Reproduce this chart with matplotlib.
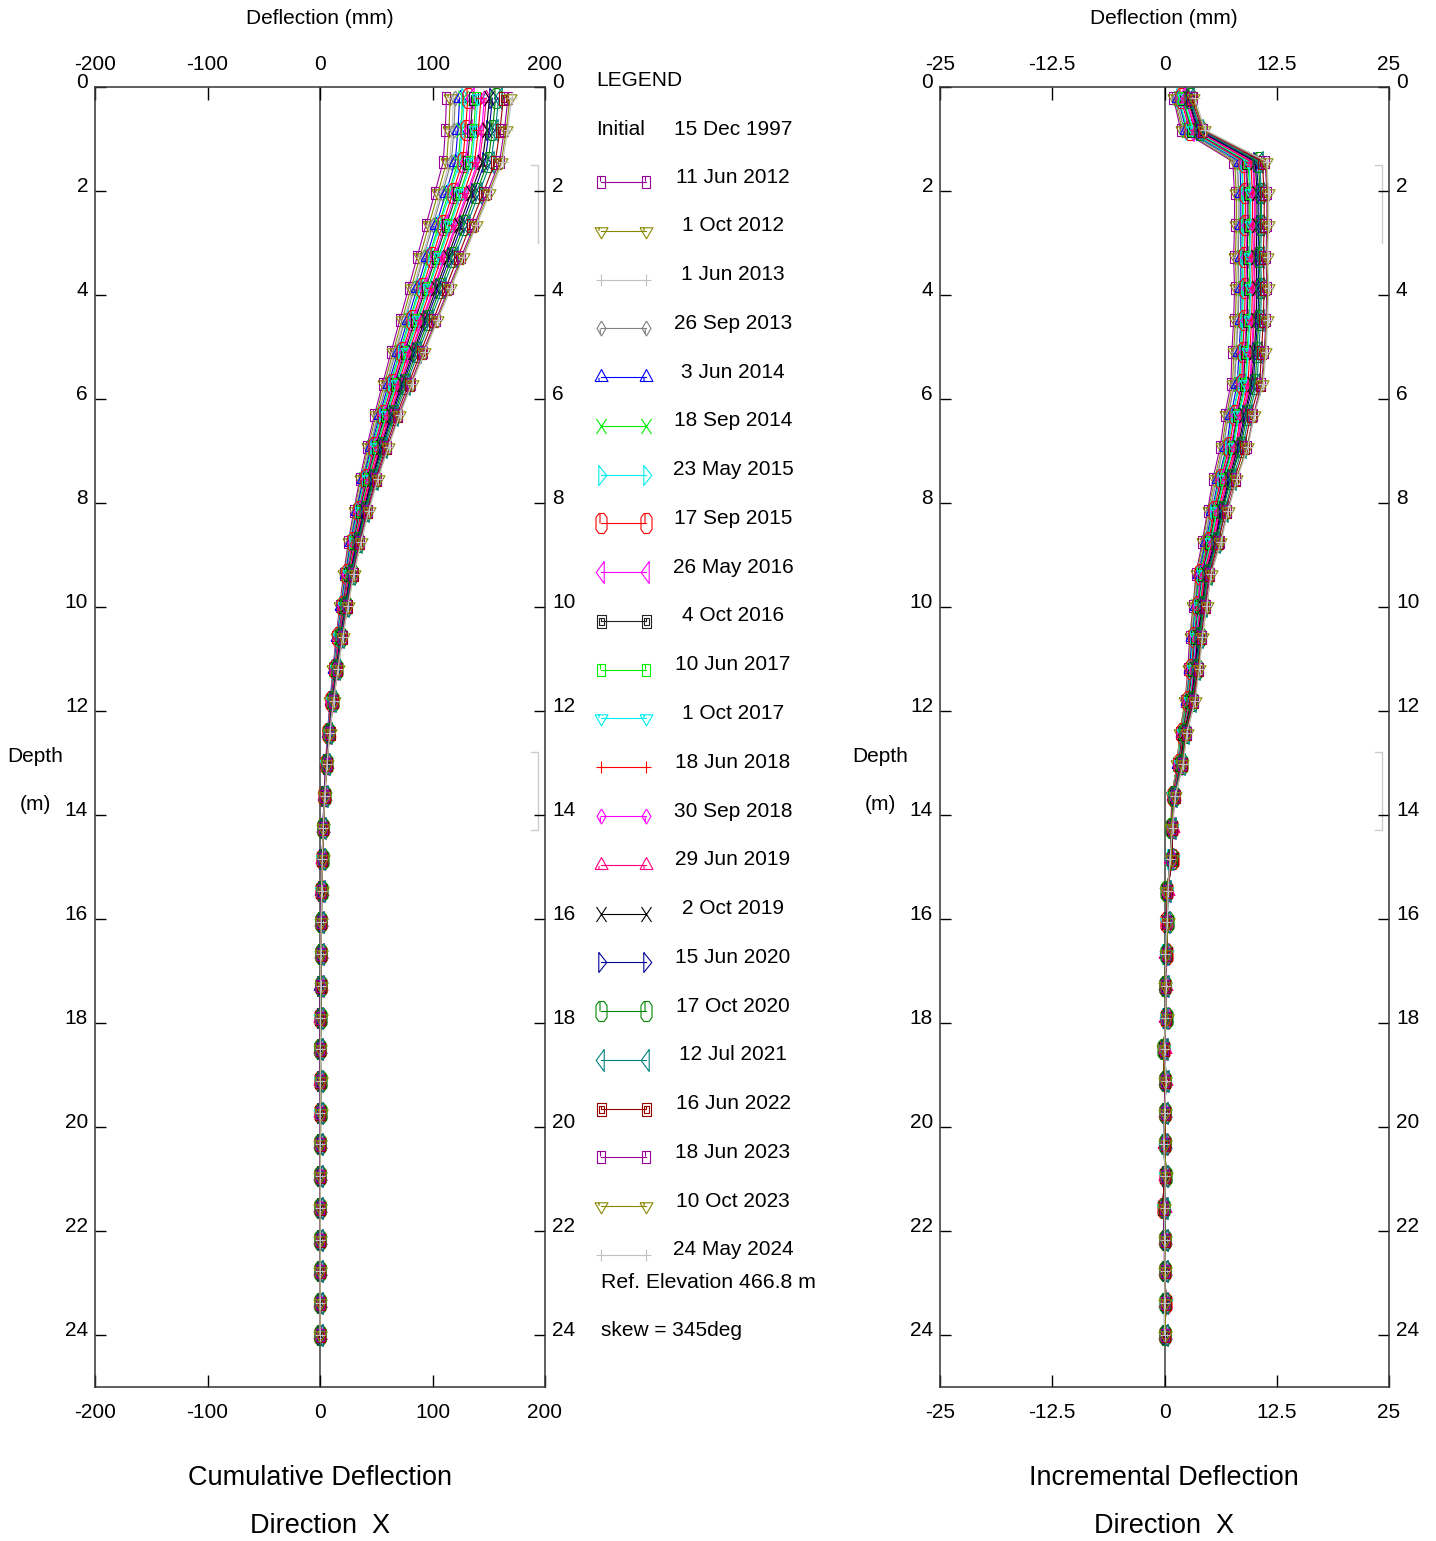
import numpy as np
import matplotlib
matplotlib.use("Agg")
import matplotlib.pyplot as plt
from matplotlib.path import Path
from matplotlib.transforms import ScaledTranslation

plt.rcParams['font.family'] = ['Liberation Sans', 'DejaVu Sans']

# ---- data -------------------------------------------------------------
depths = [0.22, 0.83, 1.44, 2.05, 2.66, 3.27, 3.88, 4.49, 5.10, 5.71,
          6.32, 6.93, 7.54, 8.15, 8.76, 9.37, 9.98, 10.59, 11.20, 11.81,
          12.42, 13.03, 13.64, 14.25, 14.86, 15.46, 16.07, 16.68, 17.29, 17.90,
          18.51, 19.12, 19.73, 20.34, 20.95, 21.56, 22.17, 22.78, 23.39, 24.00]

dates = ['11 Jun 2012', '1 Oct 2012', '1 Jun 2013', '26 Sep 2013', '3 Jun 2014',
         '18 Sep 2014', '23 May 2015', '17 Sep 2015', '26 May 2016', '4 Oct 2016',
         '10 Jun 2017', '1 Oct 2017', '18 Jun 2018', '30 Sep 2018', '29 Jun 2019',
         '2 Oct 2019', '15 Jun 2020', '17 Oct 2020', '12 Jul 2021', '16 Jun 2022',
         '18 Jun 2023', '10 Oct 2023', '24 May 2024']

# incremental deflection (mm) at each depth, one list per survey
inc_11jun2012 = [1.0, 1.8, 7.6, 7.8, 7.8, 7.7, 7.8, 7.7, 7.5, 7.4, 6.7, 6.2, 5.4, 4.8, 4.2, 3.5, 3.2, 2.8, 2.6, 2.3, 1.7, 1.4, 0.8,
                 0.8, 0.7, 0.3, 0.3, 0.2, 0.1, 0.2, -0.1, 0.1, 0.0, 0.0, 0.1, -0.1, 0.0, 0.0, 0.1, 0.0]
inc_01oct2012 = [1.1, 2.0, 7.8, 8.0, 8.0, 7.9, 8.0, 7.9, 7.7, 7.6, 6.9, 6.4, 5.6, 4.9, 4.3, 3.6, 3.2, 2.9, 2.7, 2.3, 1.7, 1.4, 0.8,
                 0.7, 0.8, 0.2, 0.4, 0.2, 0.0, 0.3, -0.2, 0.1, 0.1, 0.0, 0.2, -0.1, 0.1, 0.0, 0.1, 0.1]
inc_01jun2013 = [1.3, 2.1, 8.0, 8.2, 8.2, 8.1, 8.2, 8.1, 7.9, 7.7, 7.1, 6.5, 5.7, 5.0, 4.4, 3.7, 3.3, 3.0, 2.7, 2.4, 1.8, 1.4, 0.9,
                 0.9, 0.6, 0.4, 0.3, 0.1, 0.2, 0.1, 0.0, 0.2, 0.0, -0.1, 0.1, 0.0, 0.0, 0.1, 0.0, 0.0]
inc_26sep2013 = [1.3, 2.2, 8.1, 8.3, 8.3, 8.2, 8.3, 8.2, 8.0, 7.8, 7.1, 6.6, 5.8, 5.1, 4.5, 3.7, 3.4, 3.0, 2.8, 2.4, 1.8, 1.5, 0.9,
                 0.8, 0.9, 0.3, 0.2, 0.3, 0.1, 0.2, -0.1, 0.0, 0.1, 0.1, 0.0, -0.2, 0.1, 0.0, 0.2, 0.0]
inc_03jun2014 = [1.5, 2.4, 8.4, 8.5, 8.5, 8.5, 8.5, 8.5, 8.3, 8.1, 7.4, 6.9, 6.0, 5.3, 4.6, 3.8, 3.5, 3.1, 2.8, 2.5, 1.9, 1.5, 0.9,
                 0.8, 0.7, 0.3, 0.3, 0.2, 0.1, 0.2, -0.1, 0.1, 0.0, 0.0, 0.1, -0.1, 0.0, 0.0, 0.1, 0.0]
inc_18sep2014 = [1.6, 2.5, 8.6, 8.7, 8.7, 8.6, 8.7, 8.6, 8.5, 8.3, 7.6, 7.0, 6.1, 5.4, 4.7, 3.9, 3.5, 3.2, 2.9, 2.5, 1.9, 1.5, 0.9,
                 0.7, 0.8, 0.2, 0.4, 0.2, 0.0, 0.3, -0.2, 0.1, 0.1, 0.0, 0.2, -0.1, 0.1, 0.0, 0.1, 0.1]
inc_23may2015 = [1.6, 2.6, 8.6, 8.8, 8.8, 8.7, 8.8, 8.7, 8.6, 8.4, 7.6, 7.1, 6.2, 5.4, 4.8, 4.0, 3.6, 3.2, 2.9, 2.6, 1.9, 1.6, 0.9,
                 0.9, 0.6, 0.4, 0.3, 0.1, 0.2, 0.1, 0.0, 0.2, 0.0, -0.1, 0.1, 0.0, 0.0, 0.1, 0.0, 0.0]
inc_17sep2015 = [1.8, 2.8, 8.8, 9.0, 9.0, 8.9, 9.0, 8.9, 8.7, 8.6, 7.8, 7.2, 6.3, 5.5, 4.9, 4.0, 3.7, 3.3, 3.0, 2.6, 2.0, 1.6, 0.9,
                 0.8, 0.9, 0.3, 0.2, 0.3, 0.1, 0.2, -0.1, 0.0, 0.1, 0.1, 0.0, -0.2, 0.1, 0.0, 0.2, 0.0]
inc_26may2016 = [1.9, 2.9, 9.0, 9.2, 9.2, 9.1, 9.2, 9.1, 8.9, 8.7, 8.0, 7.4, 6.4, 5.7, 5.0, 4.1, 3.7, 3.4, 3.1, 2.7, 2.0, 1.6, 1.0,
                 0.8, 0.7, 0.3, 0.3, 0.2, 0.1, 0.2, -0.1, 0.1, 0.0, 0.0, 0.1, -0.1, 0.0, 0.0, 0.1, 0.0]
inc_04oct2016 = [2.0, 3.0, 9.1, 9.3, 9.3, 9.2, 9.3, 9.2, 9.0, 8.8, 8.1, 7.5, 6.5, 5.7, 5.0, 4.2, 3.8, 3.4, 3.1, 2.7, 2.0, 1.6, 1.0,
                 0.7, 0.8, 0.2, 0.4, 0.2, 0.0, 0.3, -0.2, 0.1, 0.1, 0.0, 0.2, -0.1, 0.1, 0.0, 0.1, 0.1]
inc_10jun2017 = [2.0, 3.1, 9.3, 9.5, 9.5, 9.4, 9.5, 9.4, 9.2, 9.0, 8.2, 7.6, 6.6, 5.8, 5.1, 4.3, 3.9, 3.5, 3.2, 2.8, 2.1, 1.7, 1.0,
                 0.9, 0.6, 0.4, 0.3, 0.1, 0.2, 0.1, 0.0, 0.2, 0.0, -0.1, 0.1, 0.0, 0.0, 0.1, 0.0, 0.0]
inc_01oct2017 = [2.2, 3.2, 9.4, 9.6, 9.6, 9.5, 9.6, 9.5, 9.3, 9.1, 8.3, 7.7, 6.7, 5.9, 5.2, 4.3, 3.9, 3.5, 3.2, 2.8, 2.1, 1.7, 1.0,
                 0.8, 0.9, 0.3, 0.2, 0.3, 0.1, 0.2, -0.1, 0.0, 0.1, 0.1, 0.0, -0.2, 0.1, 0.0, 0.2, 0.0]
inc_18jun2018 = [2.3, 3.4, 9.6, 9.8, 9.8, 9.7, 9.8, 9.7, 9.5, 9.3, 8.5, 7.9, 6.8, 6.0, 5.3, 4.4, 4.0, 3.6, 3.3, 2.9, 2.1, 1.7, 1.0,
                 0.8, 0.7, 0.3, 0.3, 0.2, 0.1, 0.2, -0.1, 0.1, 0.0, 0.0, 0.1, -0.1, 0.0, 0.0, 0.1, 0.0]
inc_30sep2018 = [2.3, 3.5, 9.8, 10.0, 10.0, 9.9, 10.0, 9.9, 9.7, 9.5, 8.6, 8.0, 7.0, 6.1, 5.4, 4.5, 4.1, 3.6, 3.3, 2.9, 2.2, 1.8, 1.0,
                 0.7, 0.8, 0.2, 0.4, 0.2, 0.0, 0.3, -0.2, 0.1, 0.1, 0.0, 0.2, -0.1, 0.1, 0.0, 0.1, 0.1]
inc_29jun2019 = [2.5, 3.6, 9.9, 10.1, 10.1, 10.0, 10.1, 10.0, 9.8, 9.6, 8.7, 8.1, 7.0, 6.2, 5.5, 4.5, 4.1, 3.7, 3.4, 2.9, 2.2, 1.8, 1.1,
                 0.9, 0.6, 0.4, 0.3, 0.1, 0.2, 0.1, 0.0, 0.2, 0.0, -0.1, 0.1, 0.0, 0.0, 0.1, 0.0, 0.0]
inc_02oct2019 = [2.6, 3.7, 10.1, 10.3, 10.3, 10.2, 10.3, 10.2, 10.0, 9.7, 8.9, 8.2, 7.2, 6.3, 5.6, 4.6, 4.2, 3.7, 3.4, 3.0, 2.2, 1.8, 1.1,
                 0.8, 0.9, 0.3, 0.2, 0.3, 0.1, 0.2, -0.1, 0.0, 0.1, 0.1, 0.0, -0.2, 0.1, 0.0, 0.2, 0.0]
inc_15jun2020 = [2.7, 3.8, 10.2, 10.5, 10.5, 10.4, 10.5, 10.4, 10.1, 9.9, 9.0, 8.4, 7.3, 6.4, 5.7, 4.7, 4.3, 3.8, 3.5, 3.1, 2.3, 1.9, 1.1,
                 0.8, 0.7, 0.3, 0.3, 0.2, 0.1, 0.2, -0.1, 0.1, 0.0, 0.0, 0.1, -0.1, 0.0, 0.0, 0.1, 0.0]
inc_17oct2020 = [2.8, 4.0, 10.4, 10.7, 10.7, 10.5, 10.7, 10.5, 10.3, 10.1, 9.2, 8.5, 7.4, 6.5, 5.8, 4.8, 4.3, 3.9, 3.6, 3.1, 2.3, 1.9, 1.1,
                 0.7, 0.8, 0.2, 0.4, 0.2, 0.0, 0.3, -0.2, 0.1, 0.1, 0.0, 0.2, -0.1, 0.1, 0.0, 0.1, 0.1]
inc_12jul2021 = [2.9, 4.0, 10.6, 10.8, 10.8, 10.7, 10.8, 10.7, 10.5, 10.3, 9.4, 8.7, 7.6, 6.7, 5.9, 4.9, 4.4, 4.0, 3.6, 3.2, 2.4, 1.9, 1.1,
                 0.9, 0.6, 0.4, 0.3, 0.1, 0.2, 0.1, 0.0, 0.2, 0.0, -0.1, 0.1, 0.0, 0.0, 0.1, 0.0, 0.0]
inc_16jun2022 = [3.0, 4.2, 10.9, 11.1, 11.1, 11.0, 11.1, 11.0, 10.8, 10.6, 9.6, 8.9, 7.8, 6.8, 6.0, 5.0, 4.5, 4.1, 3.7, 3.2, 2.4, 2.0, 1.2,
                 0.8, 0.9, 0.3, 0.2, 0.3, 0.1, 0.2, -0.1, 0.0, 0.1, 0.1, 0.0, -0.2, 0.1, 0.0, 0.2, 0.0]
inc_18jun2023 = [3.2, 4.3, 11.2, 11.4, 11.4, 11.3, 11.4, 11.3, 11.1, 10.8, 9.9, 9.2, 8.0, 7.0, 6.2, 5.1, 4.6, 4.2, 3.8, 3.3, 2.5, 2.0, 1.2,
                 0.8, 0.7, 0.3, 0.3, 0.2, 0.1, 0.2, -0.1, 0.1, 0.0, 0.0, 0.1, -0.1, 0.0, 0.0, 0.1, 0.0]
inc_10oct2023 = [3.2, 4.4, 11.3, 11.5, 11.5, 11.4, 11.5, 11.4, 11.2, 10.9, 10.0, 9.2, 8.0, 7.1, 6.2, 5.2, 4.7, 4.2, 3.8, 3.4, 2.5, 2.0, 1.2,
                 0.7, 0.8, 0.2, 0.4, 0.2, 0.0, 0.3, -0.2, 0.1, 0.1, 0.0, 0.2, -0.1, 0.1, 0.0, 0.1, 0.1]
inc_24may2024 = [3.4, 4.5, 11.4, 11.6, 11.6, 11.5, 11.6, 11.5, 11.3, 11.0, 10.0, 9.3, 8.1, 7.1, 6.3, 5.2, 4.7, 4.2, 3.9, 3.4, 2.5, 2.1, 1.2,
                 0.9, 0.6, 0.4, 0.3, 0.1, 0.2, 0.1, 0.0, 0.2, 0.0, -0.1, 0.1, 0.0, 0.0, 0.1, 0.0, 0.0]

surveys = [inc_11jun2012, inc_01oct2012, inc_01jun2013, inc_26sep2013, inc_03jun2014,
           inc_18sep2014, inc_23may2015, inc_17sep2015, inc_26may2016, inc_04oct2016,
           inc_10jun2017, inc_01oct2017, inc_18jun2018, inc_30sep2018, inc_29jun2019,
           inc_02oct2019, inc_15jun2020, inc_17oct2020, inc_12jul2021, inc_16jun2022,
           inc_18jun2023, inc_10oct2023, inc_24may2024]


# ---- marker shapes (pixel units) ----------------------------------------
def make_marker(polys):
    verts, codes = [], []
    for p in polys:
        verts += p
        codes += [Path.MOVETO] + [Path.LINETO] * (len(p) - 1)
    size = 2 * max(max(abs(x), abs(y)) for x, y in verts) * 0.72
    return Path(verts, codes), size

sq = make_marker([[(-4, -6), (4, -6), (4, 6), (-4, 6), (-4, -6)], [(-1, 6), (-1, 1)]])
tri_dn = make_marker([[(-6.5, 3.7), (6.5, 3.7), (0, -7.3), (-6.5, 3.7)], [(-2.5, 3.7), (-2.5, 0.5)]])
plus = make_marker([[(-5, 0), (5, 0)], [(0, -6), (0, 6)]])
diam = make_marker([[(0, 7.5), (4.5, 0), (0, -7.5), (-4.5, 0), (0, 7.5)], [(-1.2, 0), (-1.2, -5)]])
tri_up = make_marker([[(-6.5, -4), (6.5, -4), (0, 8), (-6.5, -4)], [(-2.5, -4), (-2.5, -0.5)]])
xx = make_marker([[(-5, -7.5), (5, 7.5)], [(-5, 7.5), (5, -7.5)]])
tri_r = make_marker([[(-2.7, 10), (5.3, 0), (-2.7, -10), (-2.7, 10)]])
octa = make_marker([[(-2.5, 10), (2.5, 10), (5.5, 6), (5.5, -6), (2.5, -10), (-2.5, -10),
                     (-5.5, -6), (-5.5, 6), (-2.5, 10)], [(-1.5, 10), (-1.5, 0)]])
tri_l = make_marker([[(2.7, 11), (-5.3, 0), (2.7, -11), (2.7, 11)]])
sqsq = make_marker([[(-4.5, -6.5), (4.5, -6.5), (4.5, 6.5), (-4.5, 6.5), (-4.5, -6.5)],
                    [(-2.5, -3.5), (2.5, -3.5), (2.5, 3.5), (-2.5, 3.5), (-2.5, -3.5)],
                    [(-0.5, 3.5), (-0.5, 0)]])

styles = [('#990099', sq), ('#888800', tri_dn), ('#c0c0c0', plus), ('#808080', diam),
          ('#0000ff', tri_up), ('#00ee00', xx), ('#00eeee', tri_r), ('#ff0000', octa),
          ('#ff00ff', tri_l), ('#222222', sqsq), ('#00ee00', sq), ('#00eeee', tri_dn),
          ('#ff0000', plus), ('#ff00ff', diam), ('#ff0080', tri_up), ('#000000', xx),
          ('#000099', tri_r), ('#008800', octa), ('#008080', tri_l), ('#990000', sqsq)]

W, H = 1436, 1541
fig = plt.figure(figsize=(W / 100, H / 100), dpi=100)

def fx(px):
    return px / W

def fy(py):
    return 1 - py / H

ax1 = fig.add_axes([fx(95), fy(1386.7), 450 / W, 1300 / H])
ax2 = fig.add_axes([fx(940), fy(1386.7), 449 / W, 1300 / H])

up = ScaledTranslation(0, 6 / 100, fig.dpi_scale_trans)
up_x = ScaledTranslation(0, 2 / 100, fig.dpi_scale_trans)
down_x = ScaledTranslation(0, -5 / 100, fig.dpi_scale_trans)

for ax, lim, ticks, tl in [(ax1, 200, [-200, -100, 0, 100, 200], ['-200', '-100', '0', '100', '200']),
                           (ax2, 25, [-25, -12.5, 0, 12.5, 25], ['-25', '-12.5', '0', '12.5', '25'])]:
    ax.set_xlim(-lim, lim)
    ax.set_ylim(25, 0)
    ax.set_xticks(ticks)
    ax.set_xticklabels(tl)
    ax.set_yticks(range(0, 25, 2))
    ax.tick_params(axis='x', top=True, bottom=True, labeltop=True, labelbottom=True,
                   direction='in', length=9, width=1, pad=8, labelsize=15)
    ax.tick_params(axis='y', left=True, right=True, labelleft=True, labelright=True,
                   direction='in', length=8, width=1, pad=5, labelsize=15)
    for t in ax.xaxis.get_major_ticks():
        t.label1.set_transform(t.label1.get_transform() + down_x)
        t.label2.set_transform(t.label2.get_transform() + up_x)
    for t in ax.yaxis.get_major_ticks():
        t.label1.set_transform(t.label1.get_transform() + up)
        t.label2.set_transform(t.label2.get_transform() + up)
    for s in ax.spines.values():
        s.set_color('#333333')
        s.set_linewidth(1.1)
    ax.axvline(0, color='#666666', lw=1.4, zorder=1)
    # zone brackets
    for d0, d1, bottom in [(1.5, 3.0, False), (12.8, 14.3, True)]:
        xs = [0.968, 0.985, 0.985]
        ys = [d0, d0, d1]
        if bottom:
            xs = xs + [0.968]
            ys = ys + [d1]
        ax.plot(xs, ys, color='#cccccc', lw=1, transform=ax.get_yaxis_transform(), zorder=1)

for k, inc in enumerate(surveys):
    color, (mpath, ms) = styles[k % 20]
    inc = np.array(inc)
    cum = np.cumsum(inc[::-1])[::-1]
    kw = dict(color=color, lw=0.8, marker=mpath, ms=ms, mfc='none', mec=color, mew=0.8, zorder=2 + k * 0.01)
    ax1.plot(cum, depths, **kw)
    ax2.plot(inc, depths, **kw)

# ---- texts ----------------------------------------------------------------
for cx in (320, 1164):
    fig.text(fx(cx), fy(18), 'Deflection (mm)', ha='center', va='center', fontsize=15)
for cx in (35, 880):
    fig.text(fx(cx), fy(756), 'Depth', ha='center', va='center', fontsize=15)
    fig.text(fx(cx), fy(805), '(m)', ha='center', va='center', fontsize=15)
fig.text(fx(320), fy(1478), 'Cumulative Deflection', ha='center', va='center', fontsize=19.5)
fig.text(fx(320), fy(1526), 'Direction  X', ha='center', va='center', fontsize=19.5)
fig.text(fx(1164), fy(1478), 'Incremental Deflection', ha='center', va='center', fontsize=19.5)
fig.text(fx(1164), fy(1526), 'Direction  X', ha='center', va='center', fontsize=19.5)

# ---- legend ---------------------------------------------------------------
lax = fig.add_axes([0, 0, 1, 1])
lax.set_xlim(0, W)
lax.set_ylim(H, 0)
lax.axis('off')
lax.text(596, 80, 'LEGEND', ha='left', va='center', fontsize=15)
lax.text(596, 129, 'Initial', ha='left', va='center', fontsize=15)
lax.text(733, 129, '15 Dec 1997', ha='center', va='center', fontsize=15)
for k, name in enumerate(dates):
    color, (mpath, ms) = styles[k % 20]
    y = 177 + 48.77 * k
    lax.plot([601, 646], [y + 5, y + 5], color=color, lw=0.8, marker=mpath, ms=ms,
             mfc='none', mec=color, mew=0.8)
    lax.text(733, y, name, ha='center', va='center', fontsize=15)
lax.text(601, 1282, 'Ref. Elevation 466.8 m', ha='left', va='center', fontsize=15.3)
lax.text(601, 1331, 'skew = 345deg', ha='left', va='center', fontsize=15)

fig.savefig('out.png', dpi=100)
